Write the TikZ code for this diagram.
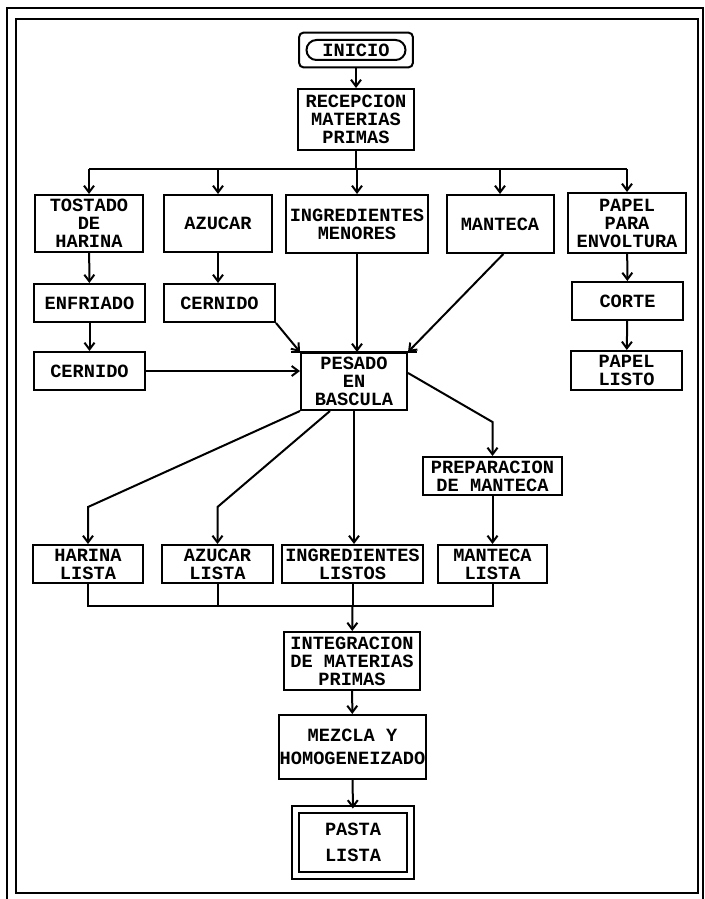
\documentclass[tikz,border=0pt]{standalone}
\usepackage{fontspec}
\newfontfamily\typefont{Liberation Mono}
\usetikzlibrary{arrows.meta,shapes.misc,fit}

\tikzset{
  box/.style={draw, line width=1.5pt, align=center, inner sep=0pt,
    font=\typefont\bfseries\fontsize{14}{13.5}\selectfont},
  boxsize/.style 2 args={minimum width=#1*0.75pt, minimum height=#2*0.75pt},
  line/.style={line width=1.5pt},
  flow/.style={line width=1.5pt, -{Straight Barb[length=5pt,width=7.5pt]}},
  frame/.style={line width=2pt}
}

\begin{document}
\begin{tikzpicture}[x=0.75pt, y=-0.75pt]
\useasboundingbox (0,0) rectangle (705,899);

% Frame
\draw[frame] (7,899) -- (7,8) -- (703,8) -- (703,899);
\draw[frame] (16,19) rectangle (698,893);

% Start
\node[box, shape=rounded rectangle, boxsize={99}{20}] (inicio) at (356,50) {INICIO};
\node[box, rounded corners=3pt, fit=(inicio), inner sep=4.7pt] (inicioframe) {};
\node[box, boxsize={116}{61}] (recep) at (356,119.5) {RECEPCION\\MATERIAS\\PRIMAS};

% Raw materials
\node[box, boxsize={108}{57}] (tost) at (89,223.5) {TOSTADO\\DE\\HARINA};
\node[box, boxsize={108}{57}] (azuc) at (218,223.5) {AZUCAR};
\node[box, boxsize={142}{58}] (ingm) at (357,224) {INGREDIENTES\\MENORES};
\node[box, boxsize={107}{58}] (mant) at (500,224) {MANTECA};
\node[box, boxsize={118}{60}] (papel) at (627,223) {PAPEL\\PARA\\ENVOLTURA};

% Conditioning
\node[box, boxsize={111}{38}] (enfr) at (89.5,303) {ENFRIADO};
\node[box, boxsize={111}{38}] (cern1) at (219.5,303) {CERNIDO};
\node[box, boxsize={111}{38}] (corte) at (627.5,301) {CORTE};
\node[box, boxsize={111}{38}] (cern2) at (89.5,371) {CERNIDO};
\node[box, boxsize={111}{39}] (listo) at (626.5,370.5) {PAPEL\\LISTO};
\node[box, boxsize={106}{57}] (pesado) at (354,381.5) {PESADO\\EN\\BASCULA};
\node[box, boxsize={139}{38}] (prep) at (492.5,476) {PREPARACION\\DE MANTECA};

% Weighed materials
\node[box, boxsize={110}{38}] (harl) at (88,564) {HARINA\\LISTA};
\node[box, boxsize={111}{38}] (azl) at (217.5,564) {AZUCAR\\LISTA};
\node[box, boxsize={141}{38}] (ingl) at (352.5,564) {INGREDIENTES\\LISTOS};
\node[box, boxsize={109}{38}] (manl) at (492.5,564) {MANTECA\\LISTA};

% Final steps
\node[box, boxsize={136}{58}] (integ) at (352,661) {INTEGRACION\\DE MATERIAS\\PRIMAS};
\node[box, boxsize={147}{64}] (mezcla) at (352.5,747) {MEZCLA Y\\[4pt]HOMOGENEIZADO};
\node[box, boxsize={115}{66}, double, double distance=3.7pt] (pasta) at (353,842.5) {PASTA\\[5.5pt]LISTA};

% Junctions
\coordinate (bus1) at (356,169);
\coordinate (kh) at (88,507);
\coordinate (ka) at (217.5,507);
\coordinate (kp) at (492.5,422);
\coordinate (bus2) at (352.5,606);

% Reception to raw materials
\draw[flow] (inicioframe) -- (recep);
\draw[line] (recep) -- (bus1);
\draw[line] (bus1 -| tost) -- (bus1 -| papel);
\foreach \n in {tost,azuc,ingm,mant,papel}
  \draw[flow] (bus1 -| \n) -- (\n);

% Conditioning chains
\draw[flow] (tost) -- (enfr);
\draw[flow] (enfr) -- (cern2);
\draw[flow] (azuc.south) -- (azuc.south |- cern1.north);
\draw[flow] (papel) -- (corte);
\draw[flow] (corte) -- (listo);

% Into the scale
\draw[line] ([xshift=-6.75pt]pesado.north west) -- ([xshift=6.75pt]pesado.north east);
\draw[flow] (cern1.south east) -- (pesado.north west);
\draw[flow] (ingm.south) -- (ingm.south |- pesado.north);
\draw[flow] ([xshift=2.5pt]mant.south) -- (pesado.north east);
\draw[flow] (cern2.east) -- (cern2.east -| pesado.west);

% Out of the scale
\draw[flow] (pesado.south west) -- (kh) -- (harl);
\draw[flow] ([xshift=-18pt]pesado.south) -- (ka) -- (azl);
\draw[flow] (pesado.south) -- (pesado.south |- ingl.north);
\draw[flow] ([yshift=6.4pt]pesado.east) -- (kp) -- (prep);
\draw[flow] (prep) -- (manl);

% Joining
\draw[line] (harl.south) -- (harl.south |- bus2) -- (manl.south |- bus2) -- (manl.south);
\draw[line] (azl.south) -- (azl.south |- bus2);
\draw[line] (ingl.south) -- (bus2);
\draw[flow] (bus2) -- (integ);
\draw[flow] (integ) -- (mezcla);
\draw[flow] (mezcla) -- (pasta);

\end{tikzpicture}
\end{document}
